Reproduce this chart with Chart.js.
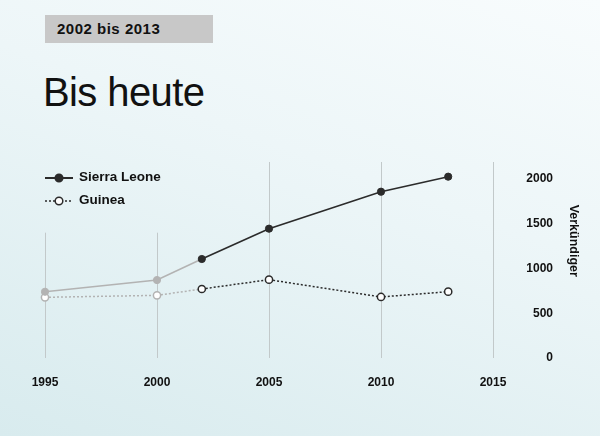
<!DOCTYPE html>
<html><head><meta charset="utf-8">
<script src="https://cdn.jsdelivr.net/npm/chart.js@4"></script>
<style>
html,body{margin:0;padding:0;width:600px;height:436px;overflow:hidden;}
body{background:linear-gradient(200deg,#f8fcfd 0%,#edf6f8 40%,#d8ebee 100%);position:relative;font-family:"Liberation Sans",Arial,sans-serif;}
#tag{position:absolute;left:45px;top:15px;width:168px;height:28px;background:#c8c8c8;}
#tag span{position:absolute;left:12px;top:5px;font-weight:bold;font-size:15px;letter-spacing:0.5px;color:#111;}
#title{position:absolute;left:43px;top:70px;font-size:40px;letter-spacing:-0.6px;color:#111;}
#c{position:absolute;left:0;top:0;}
</style></head><body>
<div id="tag"><span>2002 bis 2013</span></div>
<div id="title">Bis heute</div>
<canvas id="c" width="600" height="436"></canvas>
<script>
const years = [1995, 2000, 2002, 2005, 2010, 2013];
const sierraLeone = [740, 871, 1106, 1445, 1858, 2026];
const guinea = [678, 700, 771, 875, 682, 741];
const xTicks = [1995, 2000, 2005, 2010, 2015];
const yTicks = [0, 500, 1000, 1500, 2000];
const seriesNames = ['Sierra Leone', 'Guinea'];
const axisTitle = 'Verkündiger';
const greyUntil = 2; // index from which the line is dark

const DARK = '#2b2b2b', GREY = '#b3b3b3';
const FONT = '"Liberation Sans", Arial, sans-serif';
const pts = arr => years.map((y, i) => ({x: y, y: arr[i]}));
const ptColor = years.map((y, i) => i < greyUntil ? GREY : DARK);

const gridPlugin = {
  id: 'vgrid',
  beforeDatasetsDraw(chart) {
    const {ctx, scales: {x, y}} = chart;
    ctx.save();
    ctx.strokeStyle = '#c2c9ca';
    ctx.lineWidth = 1;
    xTicks.forEach(t => {
      const px = Math.round(x.getPixelForValue(t)) + 0.5;
      const top = t < 2005 ? y.getPixelForValue(1400) : y.getPixelForValue(2190);
      ctx.beginPath();
      ctx.moveTo(px, top);
      ctx.lineTo(px, y.getPixelForValue(0));
      ctx.stroke();
    });
    ctx.restore();
  },
  afterDraw(chart) {
    const {ctx, scales: {y}} = chart;
    ctx.save();
    ctx.translate(573, y.getPixelForValue(1310));
    ctx.rotate(Math.PI / 2);
    ctx.font = 'bold 12.5px ' + FONT;
    ctx.fillStyle = '#111';
    ctx.textAlign = 'center';
    ctx.textBaseline = 'middle';
    ctx.fillText(axisTitle, 0, 0);
    ctx.restore();
    ctx.save();
    const items = [
      {name: seriesNames[0], y: 178, dash: [], fill: DARK},
      {name: seriesNames[1], y: 201, dash: [2, 2], fill: '#ffffff'}
    ];
    items.forEach(it => {
      ctx.strokeStyle = DARK;
      ctx.lineWidth = it.dash.length ? 1.5 : 2;
      ctx.setLineDash(it.dash);
      ctx.beginPath();
      ctx.moveTo(45, it.y); ctx.lineTo(73, it.y); ctx.stroke();
      ctx.setLineDash([]);
      ctx.beginPath();
      ctx.arc(59, it.y, 3.8, 0, Math.PI * 2);
      ctx.fillStyle = it.fill; ctx.fill();
      ctx.lineWidth = 1.5; ctx.stroke();
      ctx.fillStyle = '#111';
      ctx.font = 'bold 13.5px ' + FONT;
      ctx.textBaseline = 'middle';
      ctx.fillText(it.name, 79, it.y - 1);
    });
    ctx.restore();
  }
};

new Chart(document.getElementById('c'), {
  type: 'line',
  data: {
    datasets: [
      {
        label: seriesNames[0],
        data: pts(sierraLeone),
        borderColor: DARK,
        borderWidth: 1.6,
        pointRadius: 3.6,
        pointBackgroundColor: ptColor,
        pointBorderColor: ptColor,
        pointBorderWidth: 1,
        segment: { borderColor: c => c.p0DataIndex < greyUntil ? GREY : DARK },
        clip: false,
        tension: 0
      },
      {
        label: seriesNames[1],
        data: pts(guinea),
        borderColor: DARK,
        borderWidth: 1.5,
        borderDash: [2, 2],
        pointRadius: 3.6,
        pointBackgroundColor: '#ffffff',
        pointBorderColor: ptColor,
        pointBorderWidth: 1.5,
        segment: { borderColor: c => c.p0DataIndex < greyUntil ? GREY : DARK },
        clip: false,
        tension: 0
      }
    ]
  },
  options: {
    responsive: false,
    animation: false,
    events: [],
    layout: { padding: { left: 45, top: 179, right: 47, bottom: 0 } },
    plugins: { legend: { display: false }, tooltip: { enabled: false } },
    scales: {
      x: {
        type: 'linear', min: 1995, max: 2015,
        afterBuildTicks: s => { s.ticks = xTicks.map(v => ({value: v})); },
        afterFit: s => { s.height = 78; },
        grid: { display: false, drawTicks: false },
        border: { display: false },
        ticks: {
          padding: 17,
          color: '#111',
          font: { family: FONT, size: 12, weight: 'bold' },
          callback: v => String(v)
        }
      },
      y: {
        position: 'right', min: 0, max: 2000,
        afterBuildTicks: s => { s.ticks = yTicks.map(v => ({value: v})); },
        afterFit: s => { s.width = 60; },
        grid: { display: false, drawTicks: false },
        border: { display: false },
        ticks: {
          crossAlign: 'far',
          padding: 10,
          color: '#111',
          font: { family: FONT, size: 12, weight: 'bold' },
          callback: v => String(v)
        }
      }
    }
  },
  plugins: [gridPlugin]
});
</script>
</body></html>
